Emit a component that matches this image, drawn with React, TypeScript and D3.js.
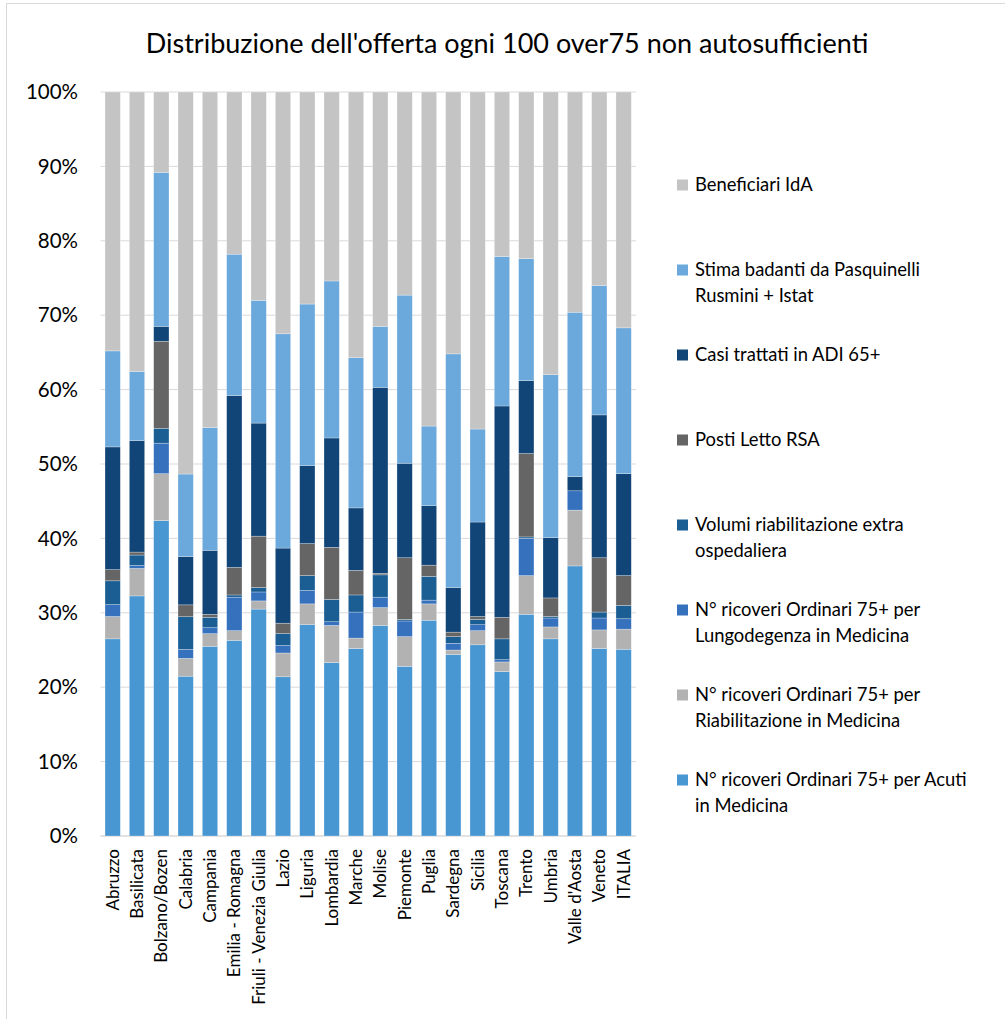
import React from "react";
import * as d3 from "d3";

// Regions plus the national total
const categories = [
  "Abruzzo", "Basilicata", "Bolzano/Bozen", "Calabria", "Campania", "Emilia - Romagna",
  "Friuli - Venezia Giulia", "Lazio", "Liguria", "Lombardia", "Marche", "Molise",
  "Piemonte", "Puglia", "Sardegna", "Sicilia", "Toscana", "Trento", "Umbria",
  "Valle d'Aosta", "Veneto", "ITALIA",
];

// Series values (share of offer per 100 over-75 non self-sufficient), bottom to top
const acuti = [26.5, 32.3, 42.4, 21.5, 25.5, 26.3, 30.5, 21.4, 28.4, 23.3, 25.2, 28.3, 22.8, 29.0, 24.4, 25.7, 22.1, 29.8, 26.5, 36.3, 25.2, 25.1];
const riabilitazione = [3.0, 3.7, 6.3, 2.4, 1.7, 1.3, 1.1, 3.2, 2.8, 5.0, 1.4, 2.4, 4.0, 2.2, 0.6, 1.9, 1.3, 5.2, 1.6, 7.5, 2.5, 2.7];
const lungodegenza = [1.6, 0.4, 4.1, 1.2, 0.8, 4.5, 1.2, 1.0, 1.8, 0.5, 3.5, 1.4, 2.1, 0.5, 0.9, 0.8, 0.3, 5.0, 1.2, 2.6, 1.6, 1.4];
const volumiRiab = [3.2, 1.4, 2.0, 4.4, 1.4, 0.3, 0.6, 1.6, 2.0, 3.0, 2.3, 3.0, 0.2, 3.2, 0.9, 0.7, 2.8, 0.2, 0.2, 0.0, 0.8, 1.8];
const postiRsa = [1.5, 0.4, 11.7, 1.6, 0.4, 3.7, 6.9, 1.4, 4.3, 7.0, 3.3, 0.2, 8.3, 1.5, 0.6, 0.4, 2.9, 11.2, 2.5, 0.0, 7.3, 4.0];
const casiAdi = [16.5, 15.0, 2.0, 6.5, 8.6, 23.1, 15.2, 10.1, 10.5, 14.7, 8.4, 25.0, 12.7, 8.0, 6.0, 12.7, 28.4, 9.8, 8.1, 1.9, 19.2, 13.7];
const badanti = [12.9, 9.3, 20.7, 11.1, 16.5, 19.0, 16.5, 28.8, 21.7, 21.1, 20.2, 8.2, 22.6, 10.7, 31.4, 12.5, 20.1, 16.4, 21.9, 22.1, 17.4, 19.6];
const beneficiariIda = [34.8, 37.6, 10.8, 51.4, 45.1, 21.8, 28.0, 32.5, 28.5, 25.4, 35.7, 31.5, 27.3, 44.9, 35.2, 45.3, 22.1, 22.4, 38.0, 29.6, 26.0, 31.7];

const yTicks = [0, 0.1, 0.2, 0.3, 0.4, 0.5, 0.6, 0.7, 0.8, 0.9, 1];

const seriesKeys = ["acuti", "riab", "lungo", "volumi", "rsa", "adi", "badanti", "ida"];
const seriesValues: Record<string, number[]> = {
  acuti, riab: riabilitazione, lungo: lungodegenza, volumi: volumiRiab,
  rsa: postiRsa, adi: casiAdi, badanti, ida: beneficiariIda,
};
const seriesColors: Record<string, string> = {
  acuti: "#4896d2",
  riab: "#b2b2b2",
  lungo: "#3671bd",
  volumi: "#1b5e93",
  rsa: "#656565",
  adi: "#114577",
  badanti: "#6ba8db",
  ida: "#c4c4c4",
};

// Legend, top to bottom
const legendItems: { key: string; lines: string[] }[] = [
  { key: "ida", lines: ["Beneficiari IdA"] },
  { key: "badanti", lines: ["Stima badanti da Pasquinelli", "Rusmini + Istat"] },
  { key: "adi", lines: ["Casi trattati in ADI 65+"] },
  { key: "rsa", lines: ["Posti Letto RSA"] },
  { key: "volumi", lines: ["Volumi riabilitazione extra", "ospedaliera"] },
  { key: "lungo", lines: ["N° ricoveri Ordinari 75+ per", "Lungodegenza in Medicina"] },
  { key: "riab", lines: ["N° ricoveri Ordinari 75+ per", "Riabilitazione in Medicina"] },
  { key: "acuti", lines: ["N° ricoveri Ordinari 75+ per Acuti", "in Medicina"] },
];

const FONT = "Lato, 'Open Sans', sans-serif";

export default function App() {
  const width = 1005;
  const height = 1019;

  const rows = categories.map((c, i) => {
    const r: Record<string, number | string> = { name: c };
    seriesKeys.forEach((k) => (r[k] = seriesValues[k][i]));
    return r;
  });

  const stack = d3
    .stack<Record<string, number | string>>()
    .keys(seriesKeys)
    .value((d, k) => d[k] as number)
    .offset(d3.stackOffsetExpand);
  const layers = stack(rows);

  const x = d3
    .scaleBand<string>()
    .domain(categories)
    .range([100.5, 635.8])
    .paddingInner(0.37)
    .paddingOuter(0.185);
  const y = d3.scaleLinear().domain([0, 1]).range([836, 92]);
  const pct = d3.format(".0%");

  return (
    <svg
      width={width}
      height={height}
      style={{ position: "absolute", left: 0, top: 0, background: "#fff" }}
      fontFamily={FONT}
    >
      <rect x={0} y={0} width={width} height={height} fill="#fff" />
      <rect x={6.5} y={3.5} width={1010} height={1030} fill="none" stroke="#d9d9d9" strokeWidth={1} />

      <text x={507} y={53} textAnchor="middle" fontSize={27} fill="#000">
        Distribuzione dell'offerta ogni 100 over75 non autosufficienti
      </text>

      {/* gridlines and y tick labels */}
      {yTicks.map((t) => (
        <g key={t}>
          <line
            x1={x.range()[0]}
            x2={x.range()[1]}
            y1={y(t)}
            y2={y(t)}
            stroke="#d9d9d9"
            strokeWidth={t === 0 ? 1.5 : 1}
          />
          <text x={78} y={y(t)} dy="0.35em" textAnchor="end" fontSize={20.5} fill="#000">
            {pct(t)}
          </text>
        </g>
      ))}

      {/* stacked bars */}
      {layers.map((layer) => (
        <g key={layer.key} fill={seriesColors[layer.key]}>
          {layer.map((d, i) => {
            const name = categories[i];
            const y0 = y(d[0]);
            const y1 = y(d[1]);
            if (y0 - y1 <= 0) return null;
            return (
              <rect
                key={name}
                x={x(name)}
                y={y1}
                width={x.bandwidth()}
                height={y0 - y1}
                stroke="#ffffff"
                strokeOpacity={0.45}
                strokeWidth={0.6}
              />
            );
          })}
        </g>
      ))}

      {/* category labels */}
      {categories.map((c) => {
        const cx = (x(c) ?? 0) + x.bandwidth() / 2;
        return (
          <text
            key={c}
            transform={`translate(${cx},849) rotate(-90)`}
            textAnchor="end"
            dy="0.35em"
            fontSize={17}
            fill="#000"
          >
            {c}
          </text>
        );
      })}

      {/* legend */}
      {legendItems.map((item, i) => {
        const cy = 185 + i * 85;
        return (
          <g key={item.key}>
            <rect x={677} y={cy - 5.5} width={11} height={11} fill={seriesColors[item.key]} />
            {item.lines.map((ln, j) => (
              <text key={j} x={695} y={cy + j * 25.5} dy="0.35em" fontSize={18.4} fill="#000">
                {ln}
              </text>
            ))}
          </g>
        );
      })}
    </svg>
  );
}
